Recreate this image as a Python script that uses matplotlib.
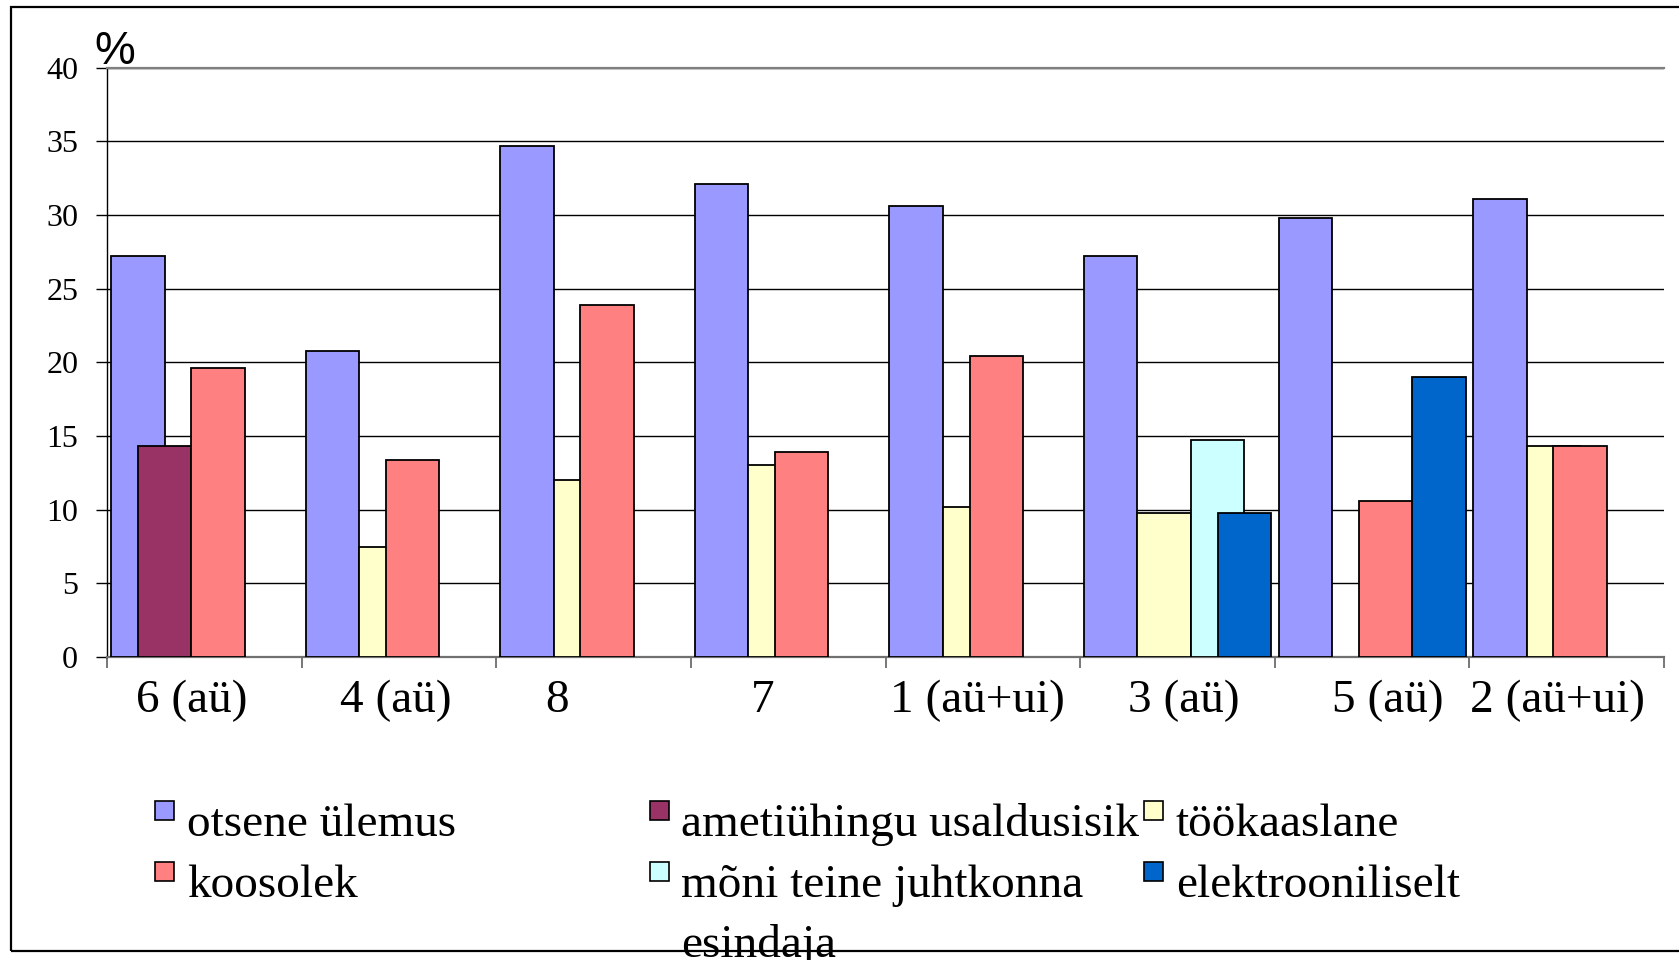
import matplotlib
matplotlib.use("Agg")
import matplotlib.pyplot as plt
import matplotlib.patches as mpatches
import matplotlib.transforms as mtransforms
import numpy as np

# ---------------- data ----------------
categories = ["6 (aü)", "4 (aü)", "8", "7", "1 (aü+ui)", "3 (aü)", "5 (aü)", "2 (aü+ui)"]
series_names = ["otsene ülemus", "ametiühingu usaldusisik", "töökaaslane",
                "koosolek", "mõni teine juhtkonna\nesindaja", "elektrooniliselt"]
otsene_ulemus = [27.2, 20.8, 34.7, 32.1, 30.6, 27.2, 29.8, 31.1]
ametiuhingu = [14.3, 0, 0, 0, 0, 0, 0, 0]
tookaaslane = [0, 7.5, 12.0, 13.0, 10.2, 9.8, 0, 14.3]
koosolek = [19.6, 13.4, 23.9, 13.9, 20.4, 0, 10.6, 14.3]
moni_teine = [0, 0, 0, 0, 0, 14.7, 0, 0]
elektrooniliselt = [0, 0, 0, 0, 0, 9.8, 19.0, 0]
y_ticks = [0, 5, 10, 15, 20, 25, 30, 35, 40]

series_values = [otsene_ulemus, ametiuhingu, tookaaslane, koosolek, moni_teine, elektrooniliselt]
colors = ["#9999FF", "#993366", "#FFFFCC", "#FF8080", "#CCFFFF", "#0066CC"]

# ---------------- figure ----------------
W, H = 1679, 960
fig = plt.figure(figsize=(W / 100, H / 100), dpi=100)
serif = "Liberation Serif"

def px_x(x):
    return x / W

def px_y(y):
    return 1 - y / H

ax_left, ax_right, ax_top, ax_bottom = 107.3, 1664, 67.7, 657
ax = fig.add_axes([px_x(ax_left), px_y(ax_bottom), (ax_right - ax_left) / W, (ax_bottom - ax_top) / H])

x = np.arange(len(categories))
w = 0.2746
step = w / 2
nser = len(series_values)
for j, (vals, col) in enumerate(zip(series_values, colors)):
    offs = (j - (nser - 1) / 2) * step
    vals = np.array(vals, dtype=float)
    mask = vals > 0
    ax.bar(x[mask] + offs, vals[mask], width=w, color=col, edgecolor="black",
           linewidth=1.3, zorder=3 + j)

ax.set_xlim(-0.5, len(categories) - 0.5)
ax.set_ylim(0, 40)
ax.set_yticks(y_ticks)
ax.set_yticklabels([str(v) for v in y_ticks], fontfamily=serif, fontsize=23)
ax.tick_params(axis="y", length=8, width=1, color="black", pad=13, direction="out")

ax.set_xticks(x)
ax.set_xticklabels(categories, fontfamily=serif, fontsize=34)
ax.tick_params(axis="x", which="major", length=0, pad=16)
ax.set_xticks(np.arange(len(categories) + 1) - 0.5, minor=True)
ax.tick_params(axis="x", which="minor", length=8, width=1.2, color="#606060", direction="out")

# label nudges to mimic the original placement (pixels)
nudges = [-13, -3, -37, -26, -6, 6, 16, -9]
for lab, dx in zip(ax.get_xticklabels(), nudges):
    lab.set_transform(lab.get_transform() + mtransforms.ScaledTranslation(dx / 100, 0, fig.dpi_scale_trans))

ax.yaxis.grid(True, color="black", linewidth=1)
ax.set_axisbelow(True)
ax.spines["right"].set_visible(False)
ax.spines["top"].set_color("#808080")
ax.spines["top"].set_linewidth(1.6)
ax.spines["bottom"].set_color("#707070")
ax.spines["bottom"].set_linewidth(1.6)
ax.spines["left"].set_color("black")
ax.spines["left"].set_linewidth(1)

# "%" unit label
fig.text(px_x(94), px_y(64), "%", fontfamily="Liberation Sans", fontsize=33, va="baseline", ha="left")

# ---------------- legend (manual, 3 columns x 2 rows) ----------------
legend_pos = [(0, 0), (1, 0), (2, 0), (0, 1), (1, 1), (2, 1)]
col_marker_x = [155, 650, 1144]
col_text_x = [187, 681, 1176]
row_marker_top = [801, 862]
row_baseline = [836, 897]
line_gap = 60
msize = 19
for j, (name, col) in enumerate(zip(series_names, colors)):
    c, r = legend_pos[j]
    rect = mpatches.Rectangle((px_x(col_marker_x[c]), px_y(row_marker_top[r] + msize)),
                              msize / W, msize / H, transform=fig.transFigure,
                              facecolor=col, edgecolor="black", linewidth=1.2)
    fig.patches.append(rect)
    for k, line in enumerate(name.split("\n")):
        fig.text(px_x(col_text_x[c]), px_y(row_baseline[r] + k * line_gap), line,
                 fontfamily=serif, fontsize=34, va="baseline", ha="left")

# outer border
border = mpatches.Rectangle((px_x(11), px_y(951)), (W + 20 - 11) / W, (951 - 7) / H,
                            transform=fig.transFigure, fill=False, edgecolor="black", linewidth=1.6)
fig.patches.append(border)

fig.savefig("out.png", dpi=100)
